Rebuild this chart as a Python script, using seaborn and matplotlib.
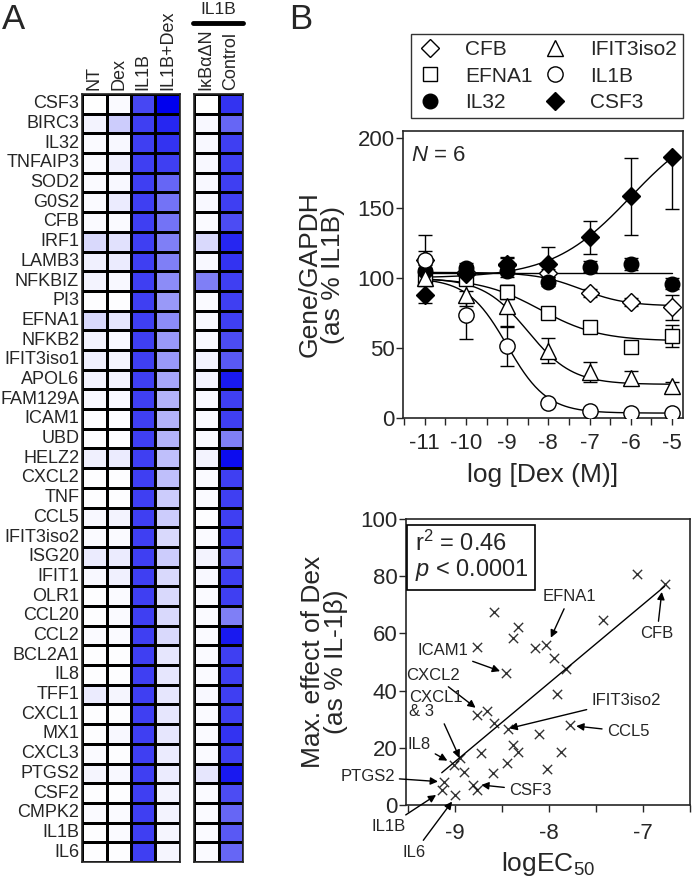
import numpy as np
import pandas as pd
import matplotlib
matplotlib.use("Agg")
import matplotlib.pyplot as plt
from matplotlib.colors import LinearSegmentedColormap
from matplotlib.lines import Line2D
import seaborn as sns

# --- panel A: heatmap data (0 = white, 1 = full blue) ---
genes = ["CSF3", "BIRC3", "IL32", "TNFAIP3", "SOD2", "G0S2", "CFB", "IRF1", "LAMB3",
         "NFKBIZ", "PI3", "EFNA1", "NFKB2", "IFIT3iso1", "APOL6", "FAM129A", "ICAM1",
         "UBD", "HELZ2", "CXCL2", "TNF", "CCL5", "IFIT3iso2", "ISG20", "IFIT1", "OLR1",
         "CCL20", "CCL2", "BCL2A1", "IL8", "TFF1", "CXCL1", "MX1", "CXCL3", "PTGS2",
         "CSF2", "CMPK2", "IL1B", "IL6"]
nt = [0.0, 0.05, 0.02, 0.02, 0.02, 0.02, 0.02, 0.15, 0.06, 0.05, 0.01, 0.15, 0.05, 0.06,
      0.05, 0.03, 0.01, 0.01, 0.06, 0.01, 0.01, 0.03, 0.02, 0.08, 0.03, 0.01, 0.01, 0.02,
      0.01, 0.01, 0.08, 0.01, 0.01, 0.02, 0.04, 0.01, 0.02, 0.01, 0.01]
dex = [0.02, 0.2, 0.03, 0.06, 0.03, 0.08, 0.02, 0.12, 0.08, 0.03, 0.01, 0.1, 0.03, 0.04,
       0.05, 0.03, 0.01, 0.01, 0.08, 0.01, 0.01, 0.05, 0.02, 0.08, 0.06, 0.02, 0.02, 0.02,
       0.01, 0.01, 0.04, 0.01, 0.03, 0.01, 0.03, 0.01, 0.02, 0.02, 0.01]
il1b = [0.72, 0.75, 0.75, 0.75, 0.75, 0.75, 0.75, 0.75, 0.75, 0.75, 0.75, 0.75, 0.75, 0.75,
        0.75, 0.75, 0.75, 0.75, 0.75, 0.75, 0.75, 0.75, 0.75, 0.75, 0.75, 0.75, 0.75, 0.75,
        0.75, 0.75, 0.75, 0.75, 0.75, 0.75, 0.75, 0.75, 0.75, 0.75, 0.75]
il1b_dex = [1.0, 0.85, 0.8, 0.75, 0.6, 0.55, 0.55, 0.5, 0.5, 0.45, 0.4, 0.45, 0.4, 0.4,
            0.35, 0.3, 0.3, 0.3, 0.25, 0.25, 0.2, 0.2, 0.15, 0.2, 0.15, 0.15, 0.15, 0.15,
            0.1, 0.1, 0.1, 0.1, 0.1, 0.08, 0.08, 0.05, 0.05, 0.04, 0.04]
ikba = [0.0, 0.03, 0.03, 0.03, 0.03, 0.03, 0.02, 0.15, 0.03, 0.5, 0.02, 0.03, 0.03, 0.05,
        0.05, 0.03, 0.02, 0.02, 0.05, 0.02, 0.02, 0.01, 0.02, 0.05, 0.03, 0.02, 0.02, 0.02,
        0.02, 0.02, 0.03, 0.02, 0.02, 0.02, 0.1, 0.02, 0.02, 0.02, 0.02]
control = [0.8, 0.6, 0.75, 0.75, 0.75, 0.75, 0.7, 0.85, 0.8, 0.75, 0.75, 0.75, 0.7, 0.65,
           0.9, 0.75, 0.75, 0.5, 0.95, 0.75, 0.75, 0.75, 0.75, 0.65, 0.75, 0.75, 0.5, 0.9,
           0.75, 0.75, 0.75, 0.75, 0.8, 0.75, 0.9, 0.7, 0.6, 0.65, 0.6]

# --- panel B top: dose response ---
log_dex = [-11, -10, -9, -8, -7, -6, -5]
resp_names = ["CFB", "EFNA1", "IL32", "IFIT3iso2", "IL1B", "CSF3"]
resp_mean = {
    "CFB": [113, 104, 109, 103.5, 89.5, 83, 79],
    "EFNA1": [100, 99, 90, 75, 64.7, 51, 58.6],
    "IL32": [105, 107, 105, 97.5, 108, 110, 96],
    "IFIT3iso2": [100, 88, 80, 48, 32.7, 28.5, 22.6],
    "IL1B": [113, 73.5, 51.4, 11, 5, 3.3, 3.8],
    "CSF3": [88, 103, 110, 110, 129, 158.5, 186.6],
}
resp_err_lo = {
    "CFB": [6, 5, 5, 3, 3, 3, 9],
    "EFNA1": [3, 4, 5, 3, 3, 3, 8],
    "IL32": [4, 4, 4, 3, 4, 4, 4],
    "IFIT3iso2": [3, 8, 15, 9, 7, 5, 3],
    "IL1B": [18, 17, 14, 2, 1, 1, 1],
    "CSF3": [6, 4, 5, 12, 12, 28, 37],
}
resp_err_hi = {
    "CFB": [6, 5, 5, 3, 3, 3, 9],
    "EFNA1": [3, 4, 5, 3, 3, 3, 8],
    "IL32": [4, 4, 4, 3, 4, 4, 4],
    "IFIT3iso2": [3, 8, 15, 9, 7, 5, 3],
    "IL1B": [18, 17, 14, 2, 1, 1, 1],
    "CSF3": [6, 4, 5, 12, 12, 27, 0],
}
# 4PL fit parameters: bottom, top, logEC50, hill
fit_bottom = {"CFB": 80, "EFNA1": 55, "IL32": 103.5, "IFIT3iso2": 24, "IL1B": 3.5, "CSF3": 100}
fit_top = {"CFB": 104, "EFNA1": 100, "IL32": 103.5, "IFIT3iso2": 100, "IL1B": 100, "CSF3": 216}
fit_ec50 = {"CFB": -7.2, "EFNA1": -8.2, "IL32": -8, "IFIT3iso2": -8.5, "IL1B": -9.0, "CSF3": -6.0}
fit_hill = {"CFB": -0.8, "EFNA1": -0.6, "IL32": -1, "IFIT3iso2": -0.8, "IL1B": -0.9, "CSF3": 0.457}

# --- panel B bottom: max effect vs logEC50 ---
log_ec50 = [-7.06, -6.77, -8.58, -8.33, -8.38, -7.43, -8.76, -8.15, -8.03, -7.95, -7.82,
            -8.46, -7.91, -8.76, -8.66, -8.58, -8.44, -7.78, -8.11, -8.38, -8.33, -8.72,
            -7.87, -8.95, -9.01, -8.90, -8.45, -8.60, -8.02, -9.12, -9.14, -8.81, -8.76, -9.0]
max_effect = [80.8, 77.3, 67.6, 62.1, 58.3, 64.7, 55.4, 54.8, 55.9, 51.3, 47.5,
              46.0, 38.8, 31.5, 33.0, 28.6, 26.6, 28.0, 24.8, 21.0, 18.6, 18.1,
              18.6, 16.3, 14.0, 11.7, 14.6, 11.1, 12.5, 8.2, 5.2, 7.0, 5.2, 3.5]

ann_labels = ["EFNA1", "CFB", "ICAM1", "CXCL2", "CXCL1\n& 3", "IL8", "PTGS2", "CSF3",
              "CCL5", "IFIT3iso2", "IL1B", "IL6"]
ann_text_x = [-7.78, -6.85, -9.13, -9.23, -9.49, -9.38, -9.93, -8.2, -7.16, -7.18, -9.71, -9.43]
ann_text_y = [72.8, 60, 54, 45.4, 35, 21, 9.9, 5.2, 25.6, 36.7, -7.5, -16.5]
ann_tip_x = [-7.98, -6.8, -8.52, -8.78, -8.95, -9.08, -9.18, -8.72, -7.71, -8.42, -9.2, -9.03]
ann_tip_y = [58.5, 74.5, 46.8, 34, 16.5, 15.5, 8.2, 7, 27.6, 26.8, 3.5, 1.2]

sns.set_style("ticks")
plt.rcParams["font.family"] = ["Liberation Sans", "DejaVu Sans"]
plt.rcParams["mathtext.fontset"] = "custom"
plt.rcParams["mathtext.rm"] = "Liberation Sans"
plt.rcParams["mathtext.it"] = "Liberation Sans:italic"
plt.rcParams["axes.unicode_minus"] = False

W, H = 693, 881
fig = plt.figure(figsize=(W / 100, H / 100), dpi=100)


def fig_rect(x0, y0, x1, y1):
    return [x0 / W, 1 - y1 / H, (x1 - x0) / W, (y1 - y0) / H]


# ---------------- panel A ----------------
cmap = LinearSegmentedColormap.from_list("wb", ["#ffffff", "#0000ee"])
left_df = pd.DataFrame({"NT": nt, "Dex": dex, "IL1B": il1b, "IL1B+Dex": il1b_dex}, index=genes)
right_df = pd.DataFrame({"IκBαΔN": ikba, "Control": control}, index=genes)

axA1 = fig.add_axes(fig_rect(82, 94, 180, 862))
sns.heatmap(left_df, ax=axA1, cmap=cmap, vmin=0, vmax=1, cbar=False,
            linewidths=1, linecolor="black")
axA2 = fig.add_axes(fig_rect(194, 94, 243, 862))
sns.heatmap(right_df, ax=axA2, cmap=cmap, vmin=0, vmax=1, cbar=False,
            linewidths=1, linecolor="black", yticklabels=False)
for ax in (axA1, axA2):
    ax.xaxis.tick_top()
    ax.set_xticklabels(ax.get_xticklabels(), rotation=90, fontsize=13)
    ax.tick_params(length=0, pad=3)
    for sp in ax.spines.values():
        sp.set_visible(True)
        sp.set_linewidth(1.2)
axA1.set_yticklabels(genes, rotation=0, fontsize=13)
axA1.tick_params(axis="y", pad=2)

fig.text(218 / W, 1 - 10 / H, "IL1B", ha="center", va="center", fontsize=12.5)
fig.add_artist(Line2D([193 / W, 243 / W], [1 - 23 / H, 1 - 23 / H], color="black", lw=3.5))
fig.text(2 / W, 1 - 3 / H, "A", ha="left", va="top", fontsize=25)
fig.text(289 / W, 1 - 3 / H, "B", ha="left", va="top", fontsize=25)

# ---------------- panel B top ----------------
axB1 = fig.add_axes(fig_rect(403, 131, 683, 418))
markers = {"CFB": ("D", "white", 9.5), "EFNA1": ("s", "white", 10.5), "IL32": ("o", "black", 10.5),
           "IFIT3iso2": ("^", "white", 11), "IL1B": ("o", "white", 11), "CSF3": ("D", "black", 9.5)}
xfine = np.linspace(-11, -5, 200)
handles = []
for g in resp_names:
    b, t, e, h = fit_bottom[g], fit_top[g], fit_ec50[g], fit_hill[g]
    curve = b + (t - b) / (1 + 10 ** ((e - xfine) * h))
    sns.lineplot(x=xfine, y=curve, ax=axB1, color="black", lw=1)
for g in resp_names:
    m, fc, ms = markers[g]
    axB1.errorbar(log_dex, resp_mean[g], yerr=[resp_err_lo[g], resp_err_hi[g]], fmt="none",
                  ecolor="black", elinewidth=1, capsize=5, capthick=1)
    axB1.plot(log_dex, resp_mean[g], ls="none", marker=m, mfc=fc, mec="black",
              mew=1, ms=ms, zorder=3)
    handles.append(Line2D([], [], ls="none", marker=m, mfc=fc, mec="black", mew=1,
                          ms=ms, label=g))
axB1.set_xlim(-11.53, -4.73)
axB1.set_ylim(0, 205)
axB1.set_xticks(log_dex)
axB1.set_xticks(np.arange(-11.5, -4.9, 0.5), minor=True)
axB1.set_yticks([0, 50, 100, 150, 200])
axB1.tick_params(axis="both", which="both", direction="out", length=5, width=1, labelsize=16)
axB1.tick_params(axis="x", pad=6)
axB1.tick_params(axis="y", pad=1)
axB1.set_xlabel("log [Dex (M)]", fontsize=19, labelpad=6)
axB1.set_ylabel("Gene/GAPDH\n(as % IL1B)", fontsize=19, labelpad=9, linespacing=0.95)
axB1.text(0.03, 0.95, "$N$ = 6", transform=axB1.transAxes, ha="left", va="top", fontsize=16)
for sp in axB1.spines.values():
    sp.set_linewidth(1.2)

fig.legend(handles=handles, loc="upper left", bbox_to_anchor=(411 / W, 1 - 34 / H), ncol=2,
           frameon=True, fancybox=False, edgecolor="black", fontsize=15,
           handlelength=1.2, handletextpad=1.1, columnspacing=0.45, labelspacing=0.35,
           borderpad=0.3, borderaxespad=0)

# ---------------- panel B bottom ----------------
axB2 = fig.add_axes(fig_rect(406, 519, 690, 805))
sns.regplot(x=log_ec50, y=max_effect, ax=axB2, ci=None, marker="x", color="black",
            scatter_kws={"s": 45, "linewidths": 1}, line_kws={"lw": 1})
axB2.set_xlim(-9.52, -6.5)
axB2.set_ylim(0, 100)
axB2.set_xticks([-9, -8, -7])
axB2.set_xticks([-9.5, -8.5, -7.5, -6.5], minor=True)
axB2.set_yticks([0, 20, 40, 60, 80, 100])
axB2.tick_params(axis="both", which="both", direction="out", length=5, width=1, labelsize=16)
axB2.tick_params(axis="x", pad=8)
axB2.tick_params(axis="y", pad=1)
axB2.set_xlabel("logEC$_{50}$", fontsize=19, labelpad=4)
axB2.set_ylabel("Max. effect of Dex\n(as % IL-1β)", fontsize=19, labelpad=9, linespacing=0.95)
for sp in axB2.spines.values():
    sp.set_linewidth(1.2)
axB2.text(0.03, 0.96, "r$^2$ = 0.46\n$p$ < 0.0001", transform=axB2.transAxes, ha="left",
          va="top", fontsize=17, linespacing=1.05,
          bbox=dict(boxstyle="square,pad=0.3", fc="white", ec="black", lw=1.2))
for lab, tx, ty, px, py in zip(ann_labels, ann_text_x, ann_text_y, ann_tip_x, ann_tip_y):
    ha = "left" if "&" in lab else "center"
    axB2.annotate(lab, xy=(px, py), xytext=(tx, ty), ha=ha, va="center", fontsize=12,
                  family=["Liberation Sans Narrow", "Liberation Sans"],
                  annotation_clip=False, linespacing=0.9,
                  arrowprops=dict(arrowstyle="-|>", color="black", lw=1,
                                  mutation_scale=11, shrinkA=1, shrinkB=0))

fig.savefig("out.png", dpi=100)
